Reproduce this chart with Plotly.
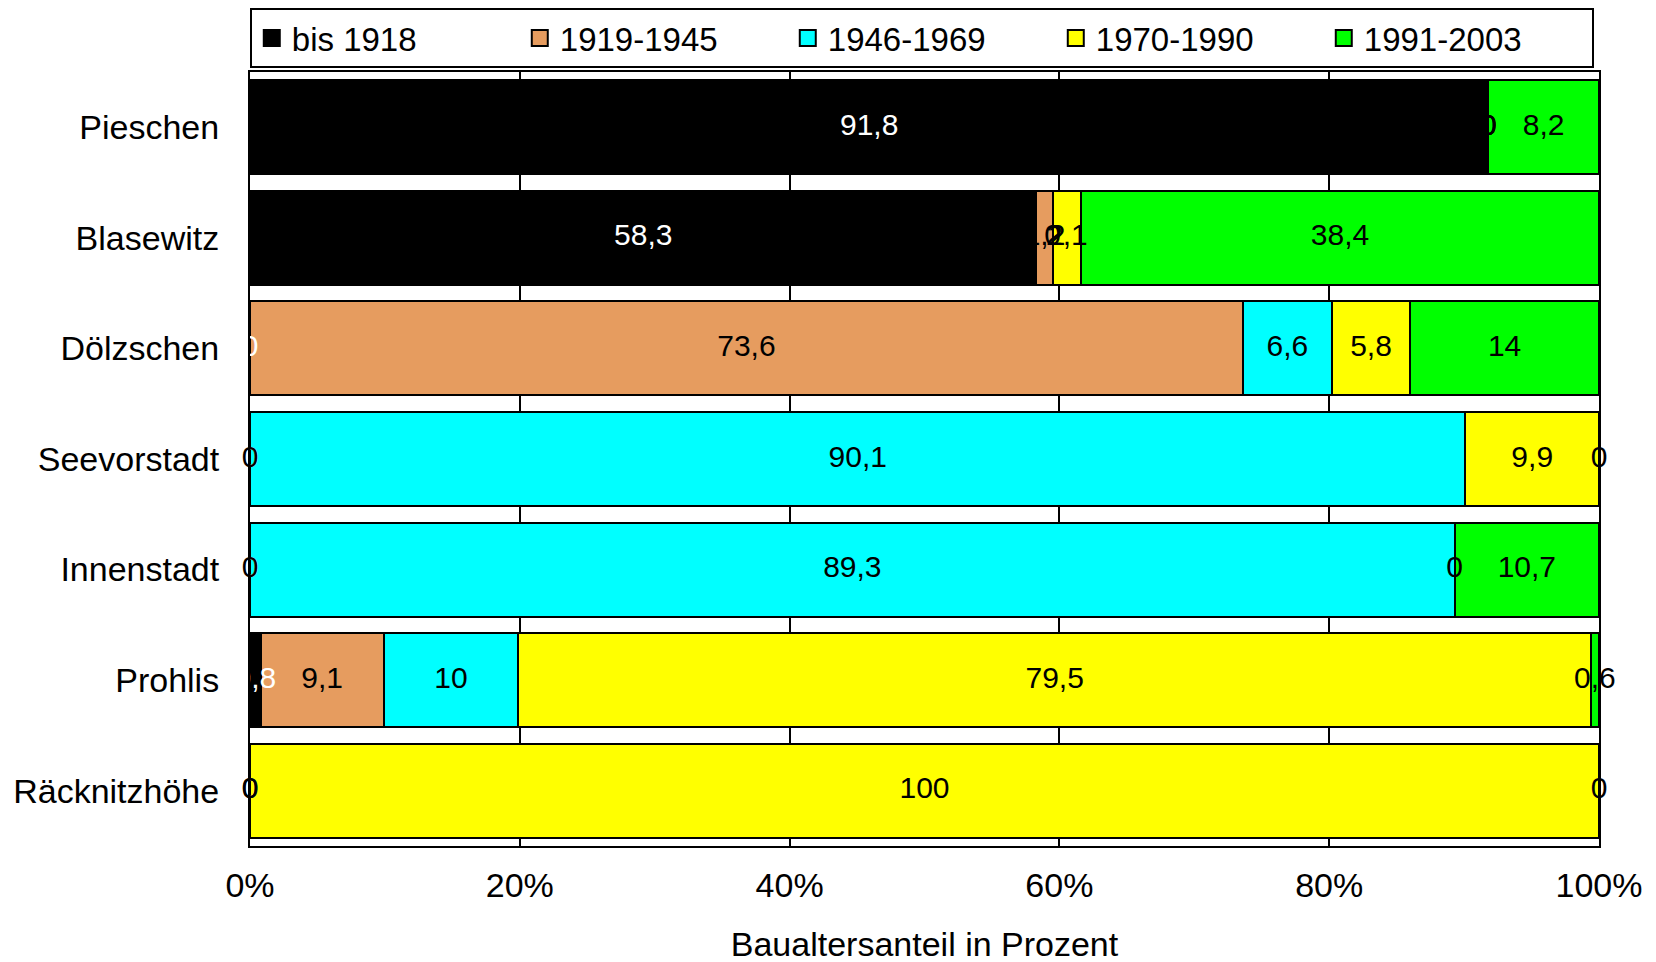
import plotly.graph_objects as go

# -----------------------------
# DATA
# -----------------------------
districts = ["Pieschen", "Blasewitz", "Dölzschen", "Seevorstadt",
             "Innenstadt", "Prohlis", "Räcknitzhöhe"]

periods = ["bis 1918", "1919-1945", "1946-1969", "1970-1990", "1991-2003"]

bis_1918 = [91.8, 58.3, 0, 0, 0, 0.8, 0]
p_1919_1945 = [0, 1.2, 73.6, 0, 0, 9.1, 0]
p_1946_1969 = [0, 0, 6.6, 90.1, 89.3, 10, 0]
p_1970_1990 = [0, 2.1, 5.8, 9.9, 0, 79.5, 100]
p_1991_2003 = [8.2, 38.4, 14, 0, 10.7, 0.6, 0]

series = [bis_1918, p_1919_1945, p_1946_1969, p_1970_1990, p_1991_2003]
colors = ["#000000", "#E69C5F", "#00FFFF", "#FFFF00", "#00FF00"]
text_colors = ["white", "black", "black", "black", "black"]

FONT = "Liberation Sans, Arial, sans-serif"


def fmt(v):
    return f"{v:g}".replace(".", ",")


fig = go.Figure()

# -----------------------------
# STACKED BARS
# -----------------------------
for name, vals, col in zip(periods, series, colors):
    fig.add_trace(go.Bar(
        y=districts,
        x=vals,
        name=name,
        orientation="h",
        marker=dict(color=col, line=dict(color="black", width=2)),
        hoverinfo="x+y+name",
        showlegend=False,
    ))

# -----------------------------
# VALUE LABELS (centre of each segment, zeros included)
# -----------------------------
cum = [0.0] * len(districts)
for name, vals, tcol in zip(periods, series, text_colors):
    mids = [c + v / 2 for c, v in zip(cum, vals)]
    cum = [c + v for c, v in zip(cum, vals)]
    fig.add_trace(go.Scatter(
        y=districts,
        x=mids,
        mode="text",
        text=[fmt(v) for v in vals],
        textposition="middle center",
        textfont=dict(family=FONT, size=30, color=tcol),
        cliponaxis=False,
        showlegend=False,
        hoverinfo="skip",
    ))

# -----------------------------
# LEGEND (manual, bigger squares)
# -----------------------------
for name, col in zip(periods, colors):
    fig.add_trace(go.Scatter(
        x=[None], y=[None],
        mode="markers",
        marker=dict(symbol="square", size=16, color=col,
                    line=dict(color="black", width=2)),
        name=name,
    ))

# -----------------------------
# LAYOUT  (page has an 8px body margin, so margins are shifted by 8)
# -----------------------------
fig.update_layout(
    width=1656,
    height=962,
    barmode="stack",
    bargap=0.15,
    plot_bgcolor="white",
    paper_bgcolor="white",
    font=dict(family=FONT, size=33, color="black"),
    margin=dict(l=242, r=65, t=64, b=124),
    legend=dict(
        orientation="h",
        xref="container",
        x=0.146, xanchor="left",
        yref="container",
        y=1.0, yanchor="top",
        bordercolor="black",
        borderwidth=2,
        font=dict(size=33),
        entrywidth=223,
        itemsizing="trace",
        traceorder="normal",
    ),
)

fig.update_xaxes(
    range=[0, 100],
    tickvals=[0, 20, 40, 60, 80, 100],
    ticktext=["0%", "20%", "40%", "60%", "80%", "100%"],
    showgrid=True, gridcolor="black", gridwidth=1.5,
    showline=True, linecolor="black", linewidth=2, mirror=True,
    zeroline=False,
    ticks="",
    automargin=False,
    ticklabelstandoff=8,
    tickfont=dict(size=34),
    title=dict(text="Baualtersanteil in Prozent", font=dict(size=34), standoff=29),
)

fig.update_yaxes(
    autorange="reversed",
    showline=True, linecolor="black", linewidth=2, mirror=True,
    ticks="",
    automargin=False,
    ticklabelstandoff=22,
    tickfont=dict(size=34),
)

fig.write_html("out.html")
